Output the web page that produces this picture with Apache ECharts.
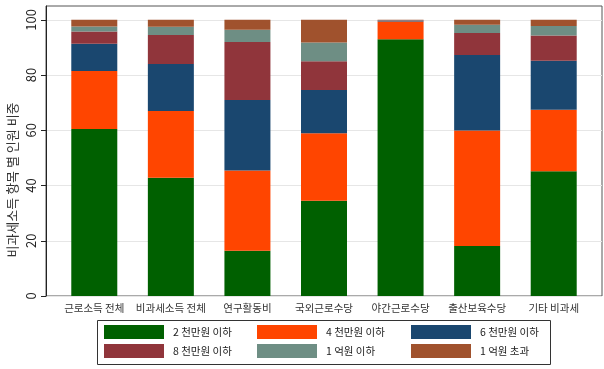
<!DOCTYPE html>
<html>
<head>
<meta charset="utf-8">
<script src="https://cdn.jsdelivr.net/npm/echarts@6/dist/echarts.min.js"></script>
<style>
  html, body { margin: 0; padding: 0; background: #fff; }
  #mycharts { width: 604px; height: 369px; }
</style>
</head>
<body>
<div id="mycharts"></div>
<script>
// 항목별 소득구간 비중 (%)
var categories = ["근로소득 전체", "비과세소득 전체", "연구활동비", "국외근로수당", "야간근로수당", "출산보육수당", "기타 비과세"];
var bandNames = ["2 천만원 이하", "4 천만원 이하", "6 천만원 이하", "8 천만원 이하", "1 억원 이하", "1 억원 초과"];
var under2k = [60.5, 42.8, 16.4, 34.5, 93.0, 18.1, 45.2];
var under4k = [21.0, 24.2, 29.0, 24.4, 6.4, 41.8, 22.2];
var under6k = [9.8, 17.0, 25.6, 15.7, 0.3, 27.4, 17.8];
var under8k = [4.5, 10.5, 21.0, 10.4, 0.1, 7.9, 9.1];
var under1b = [1.8, 3.0, 4.4, 6.8, 0.1, 3.0, 3.5];
var over1b = [2.4, 2.5, 3.6, 8.2, 0.1, 1.8, 2.2];
var yTicks = [0, 20, 40, 60, 80, 100];

var colors = ["#006000", "#ff4500", "#1a476f", "#90353b", "#6e8e84", "#a0522d"];
var font = "'Noto Sans CJK KR', 'Noto Sans', sans-serif";

var myCharts = echarts.init(document.getElementById("mycharts"));

var seriesData = [under2k, under4k, under6k, under8k, under1b, over1b];
var series = seriesData.map(function (d, i) {
  return {
    name: bandNames[i],
    type: "bar",
    stack: "total",
    xAxisIndex: 1,
    yAxisIndex: 1,
    barWidth: 46,
    itemStyle: { color: colors[i] },
    data: d
  };
});

// 범례: 3열 2행, 항목마다 하나씩
var legendLeft = [104, 257, 411];
var legendTop = [325, 344];
var legends = bandNames.map(function (name, i) {
  return {
    data: [name],
    left: legendLeft[i % 3],
    top: legendTop[Math.floor(i / 3)],
    padding: 0,
    itemWidth: 60,
    itemHeight: 14,
    icon: "rect",
    textStyle: {
      color: "#222",
      fontSize: 10.5,
      fontFamily: font,
      padding: [0, 0, 0, 4]
    }
  };
});

var option = {
  animation: false,
  color: colors,
  legend: legends,
  graphic: [
    {
      type: "rect",
      shape: { x: 97.5, y: 320.5, width: 453, height: 44 },
      style: { fill: "none", stroke: "#333", lineWidth: 1 }
    },
    {
      type: "text",
      x: 12,
      y: 180,
      rotation: Math.PI / 2,
      style: {
        text: "비과세소득 항목 별 인원 비중",
        fontSize: 13,
        fontFamily: font,
        fill: "#333",
        align: "center",
        verticalAlign: "middle"
      }
    }
  ],
  grid: [
    { left: 46, right: 2, top: 6, bottom: 73, show: true, borderColor: "#555", borderWidth: 1 },
    { left: 56, right: 12, top: 6, bottom: 73 }
  ],
  xAxis: [
    { type: "value", gridIndex: 0, min: 0, max: 1, show: false },
    {
      type: "category",
      gridIndex: 1,
      data: categories,
      axisLine: { show: false },
      axisTick: { show: false },
      axisLabel: { color: "#333", fontSize: 10.5, fontFamily: font, margin: 7, interval: 0 }
    }
  ],
  yAxis: [
    {
      type: "value",
      gridIndex: 0,
      min: 0,
      max: 105,
      interval: 20,
      axisLine: { show: true, lineStyle: { color: "#222" } },
      axisTick: { show: true, length: 5, lineStyle: { color: "#222" }, customValues: yTicks },
      axisLabel: {
        rotate: 90,
        color: "#222",
        fontSize: 13,
        fontFamily: font,
        margin: 8,
        customValues: yTicks
      },
      splitLine: { show: true, lineStyle: { color: "#e6e6e6" } }
    },
    { type: "value", gridIndex: 1, min: 0, max: 105, show: false }
  ],
  series: series
};

myCharts.setOption(option);
</script>
</body>
</html>
